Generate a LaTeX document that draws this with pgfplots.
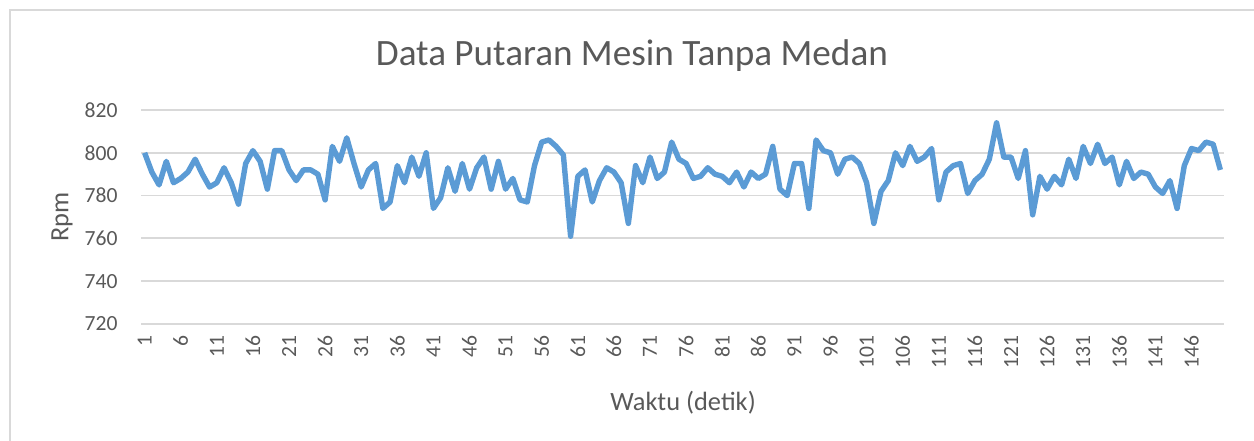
\documentclass[border=0pt]{standalone}
\usepackage{fontspec}
\setmainfont{Carlito}
\usepackage{pgfplots}
\pgfplotsset{compat=1.18}
\definecolor{txt}{HTML}{595959}
\definecolor{gridc}{HTML}{D9D9D9}
\definecolor{linec}{HTML}{5B9BD5}
\begin{document}
\begin{tikzpicture}
\path[use as bounding box] (0pt,0pt) rectangle (522.5pt,183.75pt);
\draw[gridc, line width=0.75pt] (4.17pt,-10pt) rectangle (540pt,179.58pt);
\begin{axis}[
  at={(58.75pt,48.75pt)}, anchor=south west,
  scale only axis, width=451.25pt, height=89.17pt,
  xmin=0.5, xmax=150.5, ymin=720, ymax=820,
  ytick={720,740,...,820},
  xtick={1,6,...,146},
  axis lines=left, axis line style={draw=none},
  xmajorgrids=false, ymajorgrids=true,
  y grid style={draw=gridc, line width=0.75pt},
  major tick length=0pt,
  /pgf/number format/assume math mode=true,
  tick label style={font=\fontsize{9}{10}\selectfont, text=txt},
  yticklabel style={anchor=east, inner sep=0pt},
  yticklabel shift=9.6pt,
  xticklabel style={rotate=90, anchor=east, inner sep=0pt},
  xticklabel shift=4.6pt,
  clip=false,
]
\addplot[linec, line width=2.25pt, line join=round, mark=none] coordinates {
(1,800)(2,791)(3,785)(4,796)(5,786)(6,788)(7,791)(8,797)(9,790)(10,784)
(11,786)(12,793)(13,786)(14,776)(15,795)(16,801)(17,796)(18,783)(19,801)(20,801)
(21,792)(22,787)(23,792)(24,792)(25,790)(26,778)(27,803)(28,796)(29,807)(30,795)
(31,784)(32,792)(33,795)(34,774)(35,777)(36,794)(37,786)(38,798)(39,789)(40,800)
(41,774)(42,779)(43,793)(44,782)(45,795)(46,783)(47,793)(48,798)(49,783)(50,796)
(51,783)(52,788)(53,778)(54,777)(55,794)(56,805)(57,806)(58,803)(59,799)(60,761)
(61,789)(62,792)(63,777)(64,787)(65,793)(66,791)(67,786)(68,767)(69,794)(70,786)
(71,798)(72,788)(73,791)(74,805)(75,797)(76,795)(77,788)(78,789)(79,793)(80,790)
(81,789)(82,786)(83,791)(84,784)(85,791)(86,788)(87,790)(88,803)(89,783)(90,780)
(91,795)(92,795)(93,774)(94,806)(95,801)(96,800)(97,790)(98,797)(99,798)(100,795)
(101,786)(102,767)(103,782)(104,787)(105,800)(106,794)(107,803)(108,796)(109,798)(110,802)
(111,778)(112,791)(113,794)(114,795)(115,781)(116,787)(117,790)(118,797)(119,814)(120,798)
(121,798)(122,788)(123,801)(124,771)(125,789)(126,783)(127,789)(128,785)(129,797)(130,788)
(131,803)(132,795)(133,804)(134,795)(135,798)(136,785)(137,796)(138,788)(139,791)(140,790)
(141,784)(142,781)(143,787)(144,774)(145,794)(146,802)(147,801)(148,805)(149,804)(150,792)
};
\end{axis}
\node[text=txt, font=\fontsize{15.5}{18}\selectfont] at (263.3pt,160.5pt) {Data Putaran Mesin Tanpa Medan};
\node[text=txt, font=\fontsize{11}{13}\selectfont, rotate=90] at (25.83pt,93.33pt) {Rpm};
\node[text=txt, font=\fontsize{11}{13}\selectfont] at (284.6pt,15.83pt) {Waktu (detik)};
\end{tikzpicture}
\end{document}
